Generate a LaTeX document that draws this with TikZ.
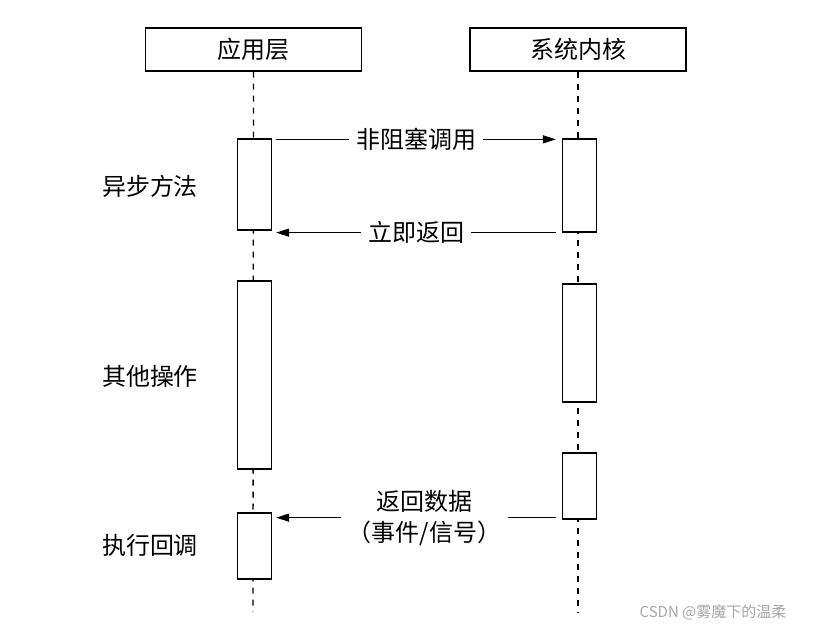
\documentclass[tikz,border=0pt]{standalone}
\usepackage{fontspec}
\newfontfamily\cjk{Noto Sans CJK SC}
\usetikzlibrary{arrows.meta}
\begin{document}
\begin{tikzpicture}[x=1pt,y=-1pt,
  every node/.style={font=\cjk\fontsize{24}{31}\selectfont},
  header/.style={draw,line width=1.3pt,minimum width=216pt,minimum height=43pt,inner sep=0pt},
  actbox/.style={draw,fill=white,line width=1.3pt,minimum width=34pt,inner sep=0pt},
  life/.style={line width=1.3pt,dash pattern=on 6pt off 6pt},
  msg/.style={line width=1.3pt,-{Triangle[length=13pt,width=8pt]}},
  lbl/.style={fill=white,inner xsep=7pt,inner ysep=2pt},
  side/.style={anchor=center}]
\useasboundingbox (0,0) rectangle (823,636);
% headers
\node[header] (app) at (253.5,49.5) {应用层};
\node[header] (ker) at (578,49.5) {系统内核};
% lifeline ends
\coordinate (append) at (253,612);
\coordinate (kerend) at (578,612);
\draw[life] (app.south) -- (append);
\draw[life] (ker.south) -- (kerend);
% activation boxes
\node[actbox,minimum height=91pt] (a1) at (254.5,184.5) {};
\node[actbox,minimum height=188pt] (a2) at (254.5,375) {};
\node[actbox,minimum height=66pt] (a3) at (254.5,546) {};
\node[actbox,minimum height=93pt] (b1) at (579.5,185.5) {};
\node[actbox,minimum height=118pt] (b2) at (579.5,343) {};
\node[actbox,minimum height=66pt] (b3) at (579.5,486) {};
% messages
\draw[msg] ([xshift=4pt,yshift=-1pt]a1.north east) -- node[lbl]{非阻塞调用} ([xshift=-6pt,yshift=-1pt]b1.north west);
\draw[msg] ([xshift=-6pt]b1.south west) -- node[lbl]{立即返回} ([xshift=4pt]a1.east |- b1.south);
\draw[msg] ([xshift=-6pt,yshift=2pt]b3.south west) -- node[lbl,align=center,pos=0.47]{返回数据\\（事件/信号）} ([xshift=4pt,yshift=2pt]a3.east |- b3.south);
% side labels
\node[side] (l1) at (150,186) {异步方法};
\node[side] (l2) at (150,376) {其他操作};
\node[side] (l3) at (150,545) {执行回调};
% watermark
\node[font=\cjk\fontsize{15}{18}\selectfont,text=black!35] (wm) at (713,612) {CSDN @雾魔下的温柔};
\end{tikzpicture}
\end{document}
